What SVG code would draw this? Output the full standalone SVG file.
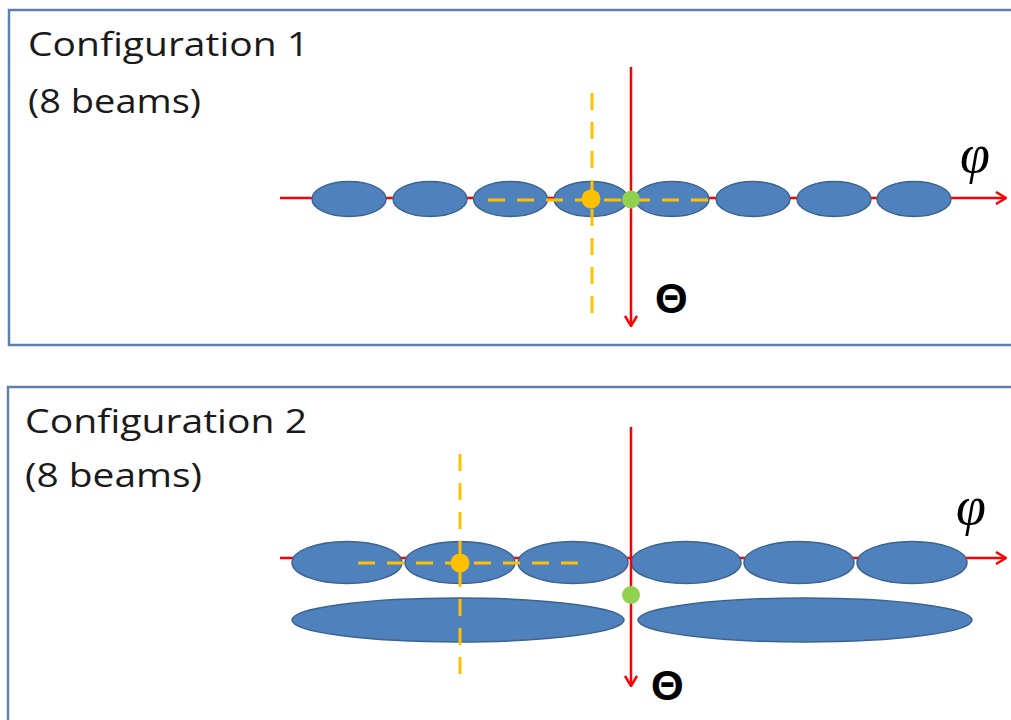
<svg xmlns="http://www.w3.org/2000/svg" width="1011" height="720" viewBox="0 0 1011 720">
<defs>
<marker id="arr" viewBox="0 0 12 14" refX="11" refY="7" markerWidth="12" markerHeight="14" markerUnits="userSpaceOnUse" orient="auto">
<path d="M1,1 L11,7 L1,13" fill="none" stroke="#ff0000" stroke-width="2.5"/>
</marker>
</defs>
<style>
.panel{fill:#ffffff;stroke:#5f7fae;stroke-width:2.5}
.lbl{font-family:"Open Sans","Liberation Sans",sans-serif;font-size:32px;fill:#1a1a1a}
.beam{fill:#4f81bd;stroke:#3b6492;stroke-width:1.5}
.axis{stroke:#ff0000;stroke-width:2.5;fill:none}
.dash{stroke:#ffc000;stroke-width:3;stroke-dasharray:17 12;fill:none}
.od{fill:#ffc000}
.gd{fill:#92d050}
.theta{font-family:"Liberation Sans","DejaVu Sans",sans-serif;font-size:42px;font-weight:bold;fill:#000}
.phi{font-family:"Liberation Serif","DejaVu Serif",serif;font-style:italic;font-size:54px;fill:#000}
</style>
<rect width="1011" height="720" fill="#ffffff"/>
<g id="panel1">
<rect class="panel" x="9" y="10" width="1020" height="335"/>
<text class="lbl" x="28" y="56" textLength="281" lengthAdjust="spacingAndGlyphs">Configuration 1</text>
<text class="lbl" x="28" y="113" textLength="173" lengthAdjust="spacingAndGlyphs">(8 beams)</text>
</g>
<g id="panel2">
<rect class="panel" x="8" y="387" width="1020" height="350"/>
<text class="lbl" x="25" y="433" textLength="282" lengthAdjust="spacingAndGlyphs">Configuration 2</text>
<text class="lbl" x="25" y="487" textLength="177" lengthAdjust="spacingAndGlyphs">(8 beams)</text>
</g>
<g id="connectors">
<line class="axis" x1="280" y1="198" x2="1006" y2="198" marker-end="url(#arr)"/>
<line class="axis" x1="280" y1="558" x2="1006" y2="558" marker-end="url(#arr)"/>
</g>
<g id="beams1">
<ellipse class="beam" cx="349" cy="199" rx="37" ry="17.5"/>
<ellipse class="beam" cx="430" cy="199" rx="37" ry="17.5"/>
<ellipse class="beam" cx="510.5" cy="199" rx="37" ry="17.5"/>
<ellipse class="beam" cx="591" cy="199" rx="37" ry="17.5"/>
<ellipse class="beam" cx="672" cy="199" rx="37" ry="17.5"/>
<ellipse class="beam" cx="753" cy="199" rx="37" ry="17.5"/>
<ellipse class="beam" cx="834" cy="199" rx="37" ry="17.5"/>
<ellipse class="beam" cx="914" cy="199" rx="37" ry="17.5"/>
</g>
<g id="beams2">
<ellipse class="beam" cx="347" cy="562.5" rx="55" ry="21"/>
<ellipse class="beam" cx="460" cy="562.5" rx="55" ry="21"/>
<ellipse class="beam" cx="573" cy="562.5" rx="55" ry="21"/>
<ellipse class="beam" cx="686" cy="562.5" rx="55" ry="21"/>
<ellipse class="beam" cx="799" cy="562.5" rx="55" ry="21"/>
<ellipse class="beam" cx="912" cy="562.5" rx="55" ry="21"/>
<ellipse class="beam" cx="458" cy="620" rx="166" ry="22"/>
<ellipse class="beam" cx="805" cy="620" rx="167" ry="22"/>
</g>
<g id="guides">
<line class="dash" x1="592" y1="93" x2="592" y2="318"/>
<line class="dash" x1="488" y1="200" x2="708" y2="200"/>
<line class="dash" x1="460" y1="454" x2="460" y2="680"/>
<line class="dash" x1="358" y1="563" x2="578" y2="563"/>
</g>
<g id="axes-v">
<line class="axis" x1="631" y1="67" x2="631" y2="326" marker-end="url(#arr)"/>
<line class="axis" x1="631" y1="427" x2="631" y2="686" marker-end="url(#arr)"/>
</g>
<g id="points">
<circle class="od" cx="591" cy="199" r="9.5"/>
<circle class="gd" cx="631" cy="199.5" r="9"/>
<circle class="od" cx="460" cy="563" r="9.5"/>
<circle class="gd" cx="631" cy="595" r="9"/>
</g>
<g id="labels">
<text class="phi" x="960" y="172">φ</text>
<text class="theta" x="655" y="313">Θ</text>
<text class="phi" x="956" y="524">φ</text>
<text class="theta" x="651" y="700">Θ</text>
</g>
</svg>
